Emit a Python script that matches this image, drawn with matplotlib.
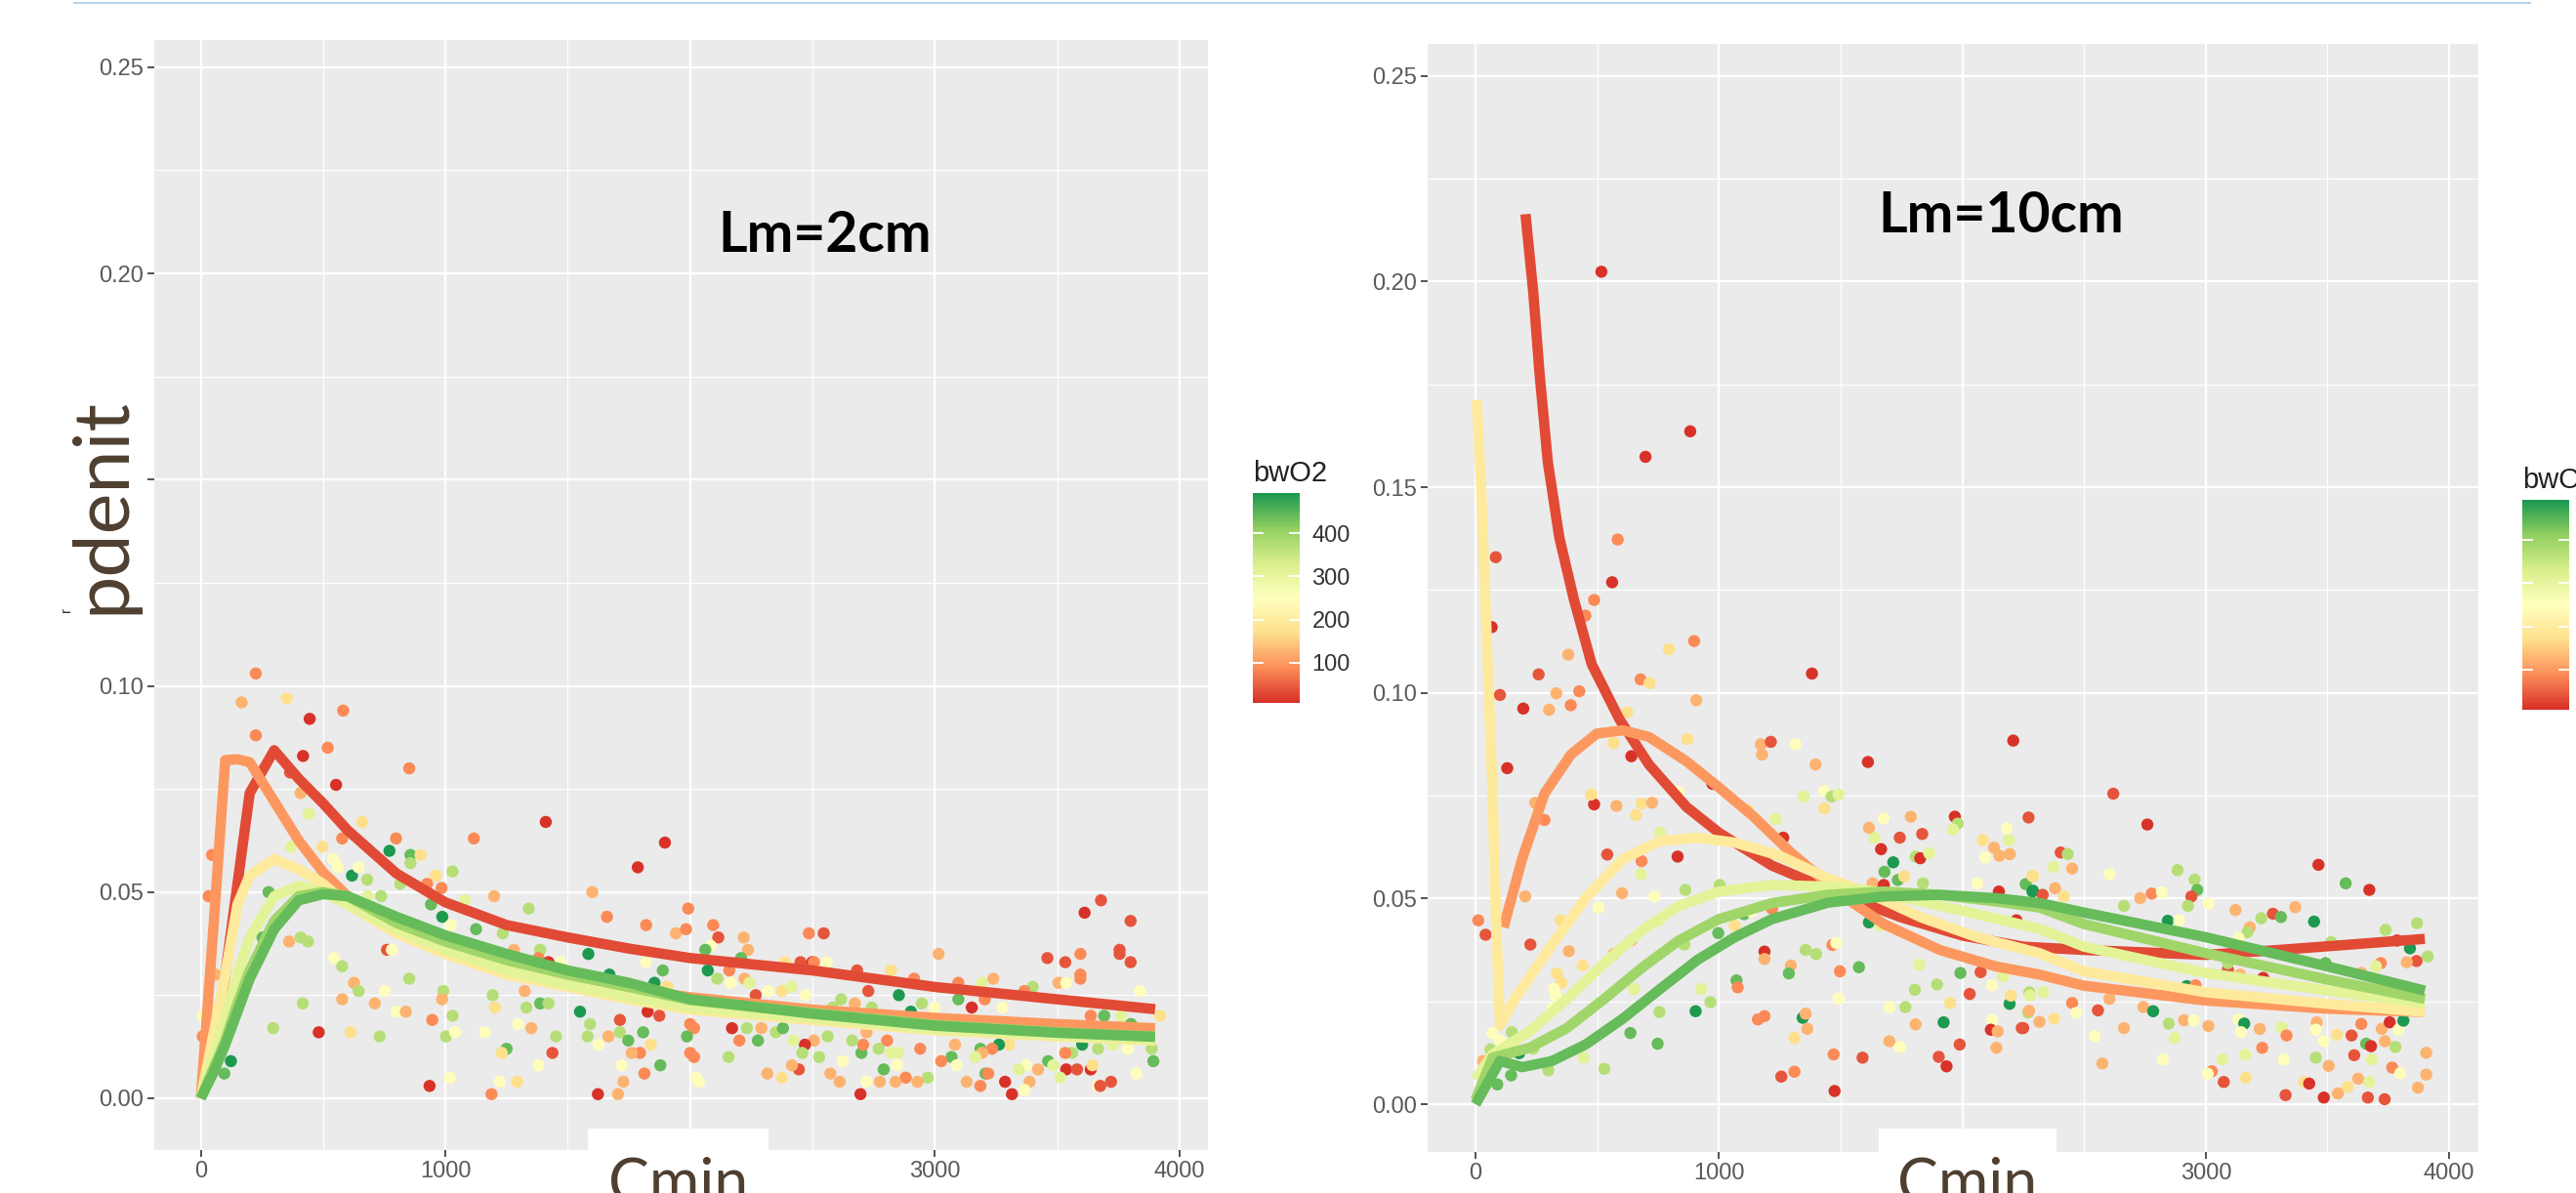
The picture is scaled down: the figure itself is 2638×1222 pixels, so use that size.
import matplotlib
matplotlib.use("Agg")
import matplotlib.pyplot as plt
from matplotlib.colors import LinearSegmentedColormap, Normalize
from matplotlib.cm import ScalarMappable
from matplotlib.patches import Rectangle
from matplotlib.lines import Line2D

# colour codes (bwO2 values)
R, OR, O, LO, PY, P, PG, LG, G, DG = 10, 40, 85, 125, 170, 245, 310, 370, 440, 490

# ---- Lm = 2cm panel: points (Cmin, pdenit, bwO2) ----
left_points = [
    (225, .103, O), (167, .096, LO), (351, .097, PY), (445, .092, R), (582, .094, O), (225, .088, O),
    (519, .085, O), (418, .083, R), (365, .079, OR), (553, .076, R), (408, .074, LO), (852, .080, O),
    (442, .069, PG), (659, .067, PY), (46, .059, O), (32, .049, O), (277, .050, G), (369, .061, PG),
    (497, .061, PY), (578, .063, O), (798, .063, O), (771, .060, DG), (857, .059, G), (857, .057, LG),
    (898, .059, PY), (541, .058, P), (561, .056, P), (618, .054, DG), (645, .056, P), (680, .053, LG),
    (815, .052, LG), (961, .054, PY), (1029, .055, LG), (925, .052, O), (984, .051, O), (682, .049, PG),
    (737, .049, LG), (941, .047, G), (987, .044, DG), (1022, .042, P), (1079, .048, PG), (1125, .041, G),
    (1199, .049, LO), (1234, .040, LG), (1280, .036, LO), (1340, .046, LG), (1387, .036, LG), (1380, .034, O),
    (1421, .033, R), (1471, .033, P), (1600, .050, LO), (1660, .044, O), (1820, .042, O), (1584, .035, DG),
    (1670, .030, DG), (1786, .056, R), (1897, .062, R), (1410, .067, R), (1116, .063, O), (1992, .046, O),
    (1942, .040, LO), (1983, .041, O), (1888, .031, G), (1854, .028, DG), (1901, .027, PY), (1820, .033, P),
    (252, .039, G), (361, .038, LO), (408, .039, LG), (438, .038, LG), (545, .034, P), (578, .032, LG),
    (626, .028, LO), (645, .026, LG), (578, .024, LO), (711, .023, LO), (752, .026, P), (761, .036, OR),
    (781, .036, P), (852, .029, LG), (417, .023, LG), (296, .017, LG), (482, .016, R), (612, .016, PY),
    (731, .015, LG), (801, .021, P), (838, .021, LO), (946, .019, O), (991, .026, LG), (986, .024, LO),
    (1029, .020, LG), (1002, .015, LG), (1040, .016, P), (935, .003, R), (1019, .005, P), (1188, .001, O),
    (1222, .004, P), (1293, .004, PY), (1161, .016, P), (1193, .025, LG), (1202, .022, PY), (1331, .022, LG),
    (1324, .026, LO), (1351, .017, LO), (1297, .018, P), (1387, .023, G), (1421, .023, LG), (1452, .015, LG),
    (1250, .012, G), (1230, .011, PY), (1437, .011, OR), (1380, .008, P), (1550, .021, DG), (1591, .018, LG),
    (1581, .015, LG), (1625, .013, P), (1666, .015, LO), (1713, .019, OR), (1713, .016, LG), (1747, .014, G),
    (1808, .016, G), (1839, .013, PY), (1795, .011, O), (1761, .011, LO), (1720, .008, P), (1813, .006, O),
    (1878, .008, G), (1727, .004, LO), (1705, .001, LO), (1623, .001, R), (2016, .017, O), (1987, .015, G),
    (2016, .010, O), (2036, .004, P), (1826, .021, R), (1874, .020, OR), (1799, .025, G), (1908, .027, PY),
    (1623, .029, LO), (123, .009, DG), (96, .006, G), (8, .015, O), (8, .020, P), (60, .030, LO),
    (2094, .042, O), (2115, .039, OR), (2083, .037, P), (2062, .036, G), (2072, .031, DG), (2111, .029, LG),
    (2160, .031, O), (2219, .039, LO), (2236, .036, LO), (2166, .028, P), (2222, .029, LO), (2243, .028, PG),
    (2208, .034, G), (2268, .025, OR), (2319, .026, P), (2375, .026, PY), (2413, .027, PG), (2472, .025, P),
    (2388, .033, PY), (2451, .033, OR), (2499, .033, R), (2485, .040, O), (2546, .040, OR), (2506, .033, O),
    (2558, .033, P), (2682, .031, OR), (2728, .026, OR), (2821, .031, PY), (2853, .025, DG), (2915, .029, O),
    (3015, .035, LO), (3096, .028, O), (3096, .024, G), (3193, .028, PG), (3239, .029, LO), (3151, .022, R),
    (3204, .024, O), (3276, .022, P), (3400, .027, LG), (3366, .026, O), (3460, .034, OR), (3533, .033, OR),
    (3595, .035, O), (3612, .045, R), (3679, .048, OR), (3755, .036, OR), (3755, .035, OR), (3800, .043, OR),
    (3800, .033, OR), (3595, .030, O), (3595, .029, O), (3505, .028, LO), (3537, .028, P), (3838, .026, P),
    (3921, .020, PY), (3692, .020, G), (3761, .020, PG), (3637, .020, O), (3802, .018, G), (3886, .012, LG),
    (3893, .009, G), (3824, .006, P), (3789, .012, P), (3667, .012, LG), (3727, .013, PG), (3602, .013, DG),
    (3561, .011, LG), (3533, .011, O), (3537, .007, R), (3581, .007, OR), (3637, .007, R), (3644, .008, PY),
    (3665, .003, P), (3676, .003, OR), (3720, .004, OR), (3463, .009, G), (3484, .008, PG), (3512, .005, PG),
    (3422, .007, LO), (3387, .004, LO), (3366, .002, P), (3315, .001, R), (3287, .004, R), (3373, .008, P),
    (3343, .007, PG), (3304, .013, PY), (3262, .013, DG), (3186, .012, G), (3234, .012, O), (3193, .011, LO),
    (3207, .006, G), (3218, .006, O), (3186, .003, O), (3165, .010, PG), (3068, .010, G), (3026, .009, O),
    (3089, .008, P), (3130, .004, LO), (3082, .013, LO), (2999, .022, P), (2947, .023, LG), (2902, .021, DG),
    (2940, .012, O), (2971, .005, LG), (2929, .004, LO), (2881, .005, O), (2839, .004, LO), (2791, .007, G),
    (2775, .004, LO), (2721, .004, P), (2696, .001, R), (2849, .011, PG), (2821, .011, PG), (2846, .008, P),
    (2770, .012, LG), (2700, .011, G), (2707, .013, O), (2721, .016, LO), (2805, .014, O), (2662, .014, LG),
    (2742, .022, LG), (2673, .023, LO), (2617, .024, LG), (2583, .022, LG), (2562, .015, LG), (2527, .010, LG),
    (2506, .014, LO), (2469, .013, R), (2458, .011, LG), (2423, .014, PG), (2444, .007, OR), (2416, .008, LO),
    (2624, .009, P), (2573, .006, LO), (2611, .004, LO), (2375, .005, PY), (2315, .006, LO), (2157, .010, LG),
    (2025, .005, P), (2000, .011, O), (2201, .014, O), (2171, .017, R), (2232, .017, LG), (2291, .017, LO),
    (2277, .014, G), (2350, .016, LG), (2379, .017, G), (2000, .018, O),
]

# ---- Lm = 10cm panel: points ----
right_points = [
    (517, .2024, R), (882, .1636, R), (698, .1574, R), (584, .1373, O), (561, .1269, R), (487, .1226, O),
    (451, .1188, O), (83, .133, OR), (66, .116, R), (381, .1093, LO), (794, .1106, PY), (898, .1126, O),
    (259, .1045, OR), (1382, .1047, R), (678, .1033, O),
    (100, .0995, OR), (196, .0962, R), (302, .0959, LO), (332, .0999, LO), (391, .097, O), (426, .1004, O),
    (715, .1024, PY), (907, .0982, LO), (623, .0953, PY), (130, .0817, R), (870, .0888, PY), (640, .0846, R),
    (567, .0878, PY), (973, .0779, R), (835, .0759, P), (245, .0733, LO), (283, .0691, O), (487, .0729, R),
    (475, .0753, PY), (579, .0725, LO), (659, .0703, PY), (682, .0731, PY), (725, .0733, LO), (1118, .0715, PY),
    (1172, .0875, LO), (1213, .0881, OR), (1177, .085, LO), (1314, .0875, P), (1397, .0826, LO), (1612, .0832, R),
    (1348, .0748, PG), (1433, .0761, P), (1463, .0748, LG), (1491, .0753, PG), (1433, .0719, PY), (1233, .0693, PG),
    (1264, .0648, R), (758, .066, PG), (830, .0602, R), (541, .0607, OR), (682, .0591, O), (679, .0559, PG),
    (862, .0521, LG), (1003, .0533, LG), (735, .0505, P), (602, .0513, LO), (204, .0505, LO), (506, .0478, P),
    (11, .0447, O), (41, .0412, OR), (225, .0388, OR), (349, .0447, PY), (383, .0372, LO), (440, .0337, PY),
    (334, .0318, PY), (352, .0295, PY), (322, .028, P), (329, .0264, P), (317, .0234, P), (149, .0175, LG),
    (69, .0173, P), (100, .0154, P), (61, .0133, LG), (31, .0105, LO), (237, .0135, LG), (179, .0124, DG),
    (146, .007, G), (89, .0048, G), (299, .0082, LG), (529, .0086, LG), (444, .0113, PG), (636, .0173, G),
    (748, .0147, G), (755, .0224, LG), (651, .028, PG), (639, .0398, LO), (567, .0365, LO), (751, .0447, PG),
    (858, .0388, LG), (997, .0416, G), (927, .028, PG), (904, .0226, DG), (965, .0248, LG), (1072, .0301, G),
    (1077, .0284, O), (1065, .0434, PY), (1103, .0462, G), (1134, .0468, P), (1218, .0475, O), (1187, .0371, R),
    (1187, .0353, LO), (1295, .0337, LO), (1287, .0318, G), (1356, .0375, LG), (1399, .0365, LG), (1466, .0387, O),
    (1482, .0392, P), (1497, .0323, O), (1575, .0333, G), (1491, .0257, P), (1160, .0206, O), (1187, .0214, O),
    (1344, .021, DG), (1356, .022, LO), (1363, .0183, LO), (1310, .0161, PY), (1471, .0121, O), (1590, .0113, OR),
    (1256, .0067, OR), (1310, .0079, O), (1475, .0032, R), (1616, .0442, DG), (1662, .0434, PG), (1631, .0537, LO),
    (1639, .0648, PG), (1677, .0695, P), (1616, .0672, LO), (1666, .062, R), (1743, .0648, OR), (1788, .0699, LO),
    (1835, .0657, OR), (1716, .0588, DG), (1680, .0565, G), (1735, .0545, G), (1761, .0554, PY), (1677, .0533, R),
    (1808, .0602, LG), (1827, .0598, R), (1864, .061, PG), (1838, .0537, LG), (1969, .0699, R), (1981, .0682, LG),
    (1961, .0668, PG), (2272, .0697, OR), (2183, .067, P), (2191, .0642, PG), (2084, .0642, PY), (2130, .0624, LO),
    (2152, .0604, LO), (2195, .0608, LO), (2094, .060, P), (2061, .0537, P), (2209, .0884, R), (2260, .0535, G),
    (2288, .0517, DG), (2150, .0517, R), (2288, .0555, PY), (2222, .0447, R), (1823, .0339, PG), (1805, .0278, LG),
    (1896, .0291, LG), (1992, .0319, G), (2075, .0321, OR), (2168, .0311, PG), (2122, .0289, P), (2030, .0268, OR),
    (1950, .0246, PY), (1766, .0236, LG), (1700, .0236, P), (1808, .0194, LO), (1923, .0199, DG), (2194, .0244, DG),
    (2199, .0264, PY), (2275, .0272, LG), (2270, .0223, LG), (2122, .0204, P), (2117, .0181, R), (2145, .0177, LO),
    (2140, .0137, LO), (2244, .0185, OR), (1700, .0153, LO), (1743, .0139, P), (1989, .0145, OR), (1903, .0115, OR),
    (1935, .0092, R),
    (2620, .0755, OR), (2760, .068, R), (2404, .0612, OR), (2433, .0608, LG), (2375, .0577, PG), (2451, .0573, LO),
    (2290, .0554, PY), (2290, .0519, DG), (2330, .0509, OR), (2381, .0525, LO), (2417, .0505, PY), (2604, .0559, P),
    (2664, .0482, LG), (2731, .0501, LO), (2778, .0512, O), (2820, .0515, P), (2884, .0569, LG), (2954, .0546, LG),
    (2965, .0521, G), (2941, .0505, OR), (2927, .0482, LG), (3011, .0488, P), (2844, .0446, DG), (2891, .0447, P),
    (3122, .0472, LO), (3228, .0452, LG), (3276, .0463, OR), (3309, .0455, G), (3368, .0479, LO), (3181, .043, LO),
    (3171, .0418, LG), (3135, .0404, P), (3445, .0444, DG), (3463, .0582, R), (3575, .0537, G), (3672, .0521, R),
    (3739, .0424, LG), (3868, .044, LG), (3515, .0394, LG), (3912, .0359, LG), (3866, .0348, OR), (3826, .0345, LO),
    (3719, .0343, O), (3699, .0335, PG), (3786, .0398, R), (3839, .0379, DG), (3492, .0343, G), (3639, .0319, LO),
    (3091, .0327, OR), (3141, .0315, LO), (3236, .0307, R), (3091, .0343, LG), (2922, .0287, DG), (2958, .0289, O),
    (2277, .0264, PG), (2333, .0272, PG), (2451, .0246, O), (2557, .0228, OR), (2468, .0222, P), (2604, .0256, LO),
    (2744, .0236, LO), (2784, .0226, DG), (2848, .0196, LG), (2911, .0204, LO), (2951, .0204, P), (3011, .019, LO),
    (2871, .0161, PG), (2664, .0185, LO), (2544, .0165, P), (2377, .0208, PY), (2317, .020, LO), (2274, .0227, LO),
    (2250, .0185, OR), (2575, .0099, LO), (2824, .0109, P), (3134, .0206, P), (3158, .0196, DG), (3145, .0175, P),
    (3222, .0183, LO), (3232, .0137, O), (3161, .012, PG), (3069, .0109, PG), (3025, .008, O), (3008, .0074, P),
    (3074, .0054, OR), (3165, .0064, PY), (3312, .0187, PG), (3332, .0167, O), (3321, .0109, P), (3328, .0022, OR),
    (3405, .0054, PY), (3425, .005, R), (3452, .0113, LG), (3456, .0199, LO), (3452, .0181, P), (3485, .0153, P),
    (3505, .0093, LO), (3485, .0016, R), (3543, .0026, LO), (3583, .0042, PY), (3626, .0062, LO), (3672, .0054, PG),
    (3666, .0016, OR), (3735, .0012, OR), (3539, .0169, PY), (3599, .0167, OR), (3639, .0195, O), (3659, .0147, G),
    (3679, .0141, R), (3610, .0119, OR), (3683, .0109, PG), (3736, .0153, LO), (3779, .0139, LG), (3766, .0089, O),
    (3799, .0075, P), (3723, .0183, LO), (3756, .0199, R), (3792, .0181, P), (3812, .0203, DG), (3906, .0125, LO),
    (3906, .0072, LO), (3872, .004, LO),
]

# ---- fitted curves, one per bwO2 level ----
curve_o2 = [30, 100, 195, 310, 395, 440]

left_curve_x = [0, 50, 100, 150, 200, 300, 400, 500, 600, 800, 1000, 1250, 1500, 1750, 2000, 2500, 3000, 3500, 3900]
left_curve_y = [
    [0, .012, .030, .052, .074, .0844, .0775, .0715, .065, .0545, .0475, .042, .039, .0363, .034, .031, .027, .024, .0216],
    [0, .040, .082, .0822, .0815, .072, .0625, .0548, .049, .042, .0375, .0325, .029, .0265, .0245, .0215, .0195, .018, .017],
    [0, .015, .030, .047, .054, .058, .0555, .052, .047, .040, .035, .030, .027, .024, .0215, .019, .0165, .015, .014],
    [0, .010, .020, .030, .039, .049, .0515, .050, .047, .041, .036, .031, .0275, .0245, .022, .0195, .0168, .0152, .0143],
    [0, .007, .014, .023, .031, .043, .049, .050, .049, .0425, .038, .0335, .030, .027, .0238, .0207, .0178, .016, .015],
    [0, .006, .013, .021, .029, .041, .048, .0495, .049, .044, .0395, .035, .031, .028, .024, .0205, .0176, .0159, .0149],
]

right_curve_x = [
    [205, 237, 263, 297, 344, 404, 477, 590, 712, 866, 1000, 1218, 1500, 1750, 2000, 2250, 2500, 3000, 3300, 3570, 3900],
    [115, 191, 283, 391, 498, 605, 712, 866, 1000, 1141, 1295, 1500, 1677, 1907, 2137, 2318, 2500, 3000, 3500, 3900],
    [5, 23, 43, 69, 84, 100, 161, 299, 452, 605, 758, 912, 1065, 1249, 1448, 1601, 1831, 2061, 2318, 2500, 3000, 3500, 3900],
    [0, 69, 222, 375, 529, 682, 835, 1000, 1218, 1448, 1601, 1831, 2061, 2318, 2500, 3000, 3500, 3900],
    [0, 69, 222, 375, 529, 682, 835, 1000, 1218, 1448, 1677, 1907, 2137, 2318, 2500, 3000, 3500, 3900],
    [0, 100, 191, 314, 452, 605, 758, 912, 1065, 1218, 1448, 1677, 1907, 2137, 2318, 2500, 3000, 3500, 3900],
]
right_curve_y = [
    [.2164, .1974, .1775, .156, .1378, .1227, .107, .0937, .0826, .0723, .066, .058, .051, .0454, .041, .0383, .0375, .0363, .0375, .0387, .0402],
    [.043, .0596, .0755, .085, .0901, .0909, .0893, .0834, .077, .070, .0612, .051, .0438, .0375, .0335, .0315, .0288, .0252, .0232, .0224],
    [.1712, .1497, .118, .077, .0454, .0192, .0256, .0375, .0501, .0596, .064, .0648, .0636, .0604, .0549, .0517, .0454, .0406, .0367, .0323, .0272, .0244, .0224],
    [.006, .0121, .0177, .0256, .0343, .0422, .0482, .0517, .0533, .0529, .0521, .0493, .0462, .0426, .0383, .0319, .0276, .0244],
    [.001, .0113, .0137, .0185, .0256, .0331, .0398, .045, .0489, .0509, .0517, .0509, .0493, .0478, .0438, .0367, .0303, .0256],
    [0, .0105, .009, .0105, .0145, .0208, .028, .0351, .0406, .045, .049, .0505, .0509, .0501, .0489, .0466, .0406, .0335, .0276],
]

x_ticks = [0, 1000, 2000, 3000, 4000]
y_ticks = [0, .05, .10, .15, .20, .25]
cbar_ticks = [100, 200, 300, 400]

# ---------------------------------------------------------------------------
W, H = 2638, 1222
fig = plt.figure(figsize=(W / 100, H / 100), dpi=100)
fig.patch.set_facecolor("white")

brewer = ["#d73027", "#fc8d59", "#fee08b", "#ffffbf", "#d9ef8b", "#91cf60", "#1a9850"]
cmap = LinearSegmentedColormap.from_list("rdylgn7", brewer)
norm = Normalize(vmin=7, vmax=493)

TICK_FONT = "Liberation Sans"
BIG_FONT = "Lato"


def px_axes(x0, x1, y0, y1):
    return fig.add_axes([x0 / W, 1 - y1 / H, (x1 - x0) / W, (y1 - y0) / H])


def style_panel(ax, xlim, ylim, hide_y=None):
    ax.set_facecolor("#ebebeb")
    for s in ax.spines.values():
        s.set_visible(False)
    ax.set_xlim(*xlim)
    ax.set_ylim(*ylim)
    ax.set_xticks(x_ticks)
    ax.set_xticks([500, 1500, 2500, 3500], minor=True)
    ax.set_yticks(y_ticks)
    ax.set_yticks([.025, .075, .125, .175, .225], minor=True)
    ylabels = ["%.2f" % v for v in y_ticks]
    if hide_y is not None:
        ylabels[hide_y] = ""
    ax.set_yticklabels(ylabels)
    # the 2000 label sits under the pasted "Cmin" box
    ax.set_xticklabels([str(v) if v != 2000 else "" for v in x_ticks])
    ax.grid(which="major", color="white", lw=1.6)
    ax.grid(which="minor", color="white", lw=0.8)
    ax.set_axisbelow(True)
    ax.tick_params(which="major", length=5, width=1.2, color="#333333",
                   labelsize=17, labelcolor="#5a5a5a", pad=3)
    ax.tick_params(which="minor", length=0)
    for lab in ax.get_xticklabels() + ax.get_yticklabels():
        lab.set_fontfamily(TICK_FONT)


def draw_panel(ax, pts, curves):
    px, py, pc = zip(*pts)
    ax.scatter(px, py, c=pc, cmap=cmap, norm=norm, s=80, linewidths=0, zorder=2)
    for (cx, cy), o2 in zip(curves, curve_o2):
        ax.plot(cx, cy, color=cmap(norm(o2)), lw=7.6, solid_capstyle="butt",
                solid_joinstyle="round", zorder=3)


def colorbar(x0, x1, y0, y1, title, labels=True):
    cax = px_axes(x0, x1, y0, y1)
    cb = fig.colorbar(ScalarMappable(norm=norm, cmap=cmap), cax=cax)
    cb.outline.set_visible(False)
    cb.set_ticks(cbar_ticks)
    if not labels:
        cb.set_ticklabels([""] * len(cbar_ticks))
    cax.tick_params(length=0, labelsize=17, labelcolor="#333333", pad=9)
    for lab in cax.get_yticklabels():
        lab.set_fontfamily(TICK_FONT)
    for t in cbar_ticks:
        cax.plot([0, 0.2], [t, t], color="white", lw=1.3)
        cax.plot([0.8, 1], [t, t], color="white", lw=1.3)
    fig.text(x0 / W, 1 - (y0 - 20) / H, title, fontsize=21, color="#222222",
             family=TICK_FONT, ha="left", va="center")


# left panel (Lm = 2cm)
axL = px_axes(158, 1237, 41, 1178)
style_panel(axL, (-190, 4116), (-0.01255, 0.2566), hide_y=3)
draw_panel(axL, left_points, [(left_curve_x, cy) for cy in left_curve_y])

# right panel (Lm = 10cm)
axR = px_axes(1462, 2538, 45, 1180)
style_panel(axR, (-197, 4120), (-0.01163, 0.2578))
draw_panel(axR, right_points, list(zip(right_curve_x, right_curve_y)))

colorbar(1283, 1331, 505, 720, "bwO2")
# the right-hand legend runs off the slide edge; its labels are not visible
colorbar(2583, 2631, 512, 727, "bwO2", labels=False)

# overlay labels pasted on the slide
fig.text(845 / W, 1 - 241 / H, "Lm=2cm", fontsize=41, fontweight="bold",
         family=BIG_FONT, color="black", ha="center", va="center")
fig.text(2049 / W, 1 - 222 / H, "Lm=10cm", fontsize=41, fontweight="bold",
         family=BIG_FONT, color="black", ha="center", va="center")

brown = "#4f3f30"
fig.text(105 / W, 1 - 518 / H, "pdenit", fontsize=57, rotation=90,
         family=BIG_FONT, color=brown, ha="center", va="center")
fig.text(68 / W, 1 - 624 / H, "r", fontsize=11, rotation=90,
         family=TICK_FONT, color="#333333", ha="center", va="center")

for bx0, bx1 in [(602, 787), (1924, 2106)]:
    fig.patches.append(Rectangle((bx0 / W, 0), (bx1 - bx0) / W, (H - 1156) / H,
                                 transform=fig.transFigure, facecolor="white",
                                 edgecolor="none", zorder=5))
    fig.text((bx0 + bx1) / 2 / W, 1 - 1232 / H, "Cmin", fontsize=45,
             family=BIG_FONT, color=brown, ha="center", va="baseline", zorder=6)

fig.add_artist(Line2D([76 / W, 2591 / W], [1 - 3 / H, 1 - 3 / H],
                      color="#b9d3ea", lw=1.5))

fig.savefig("out.png", dpi=100, facecolor="white")
